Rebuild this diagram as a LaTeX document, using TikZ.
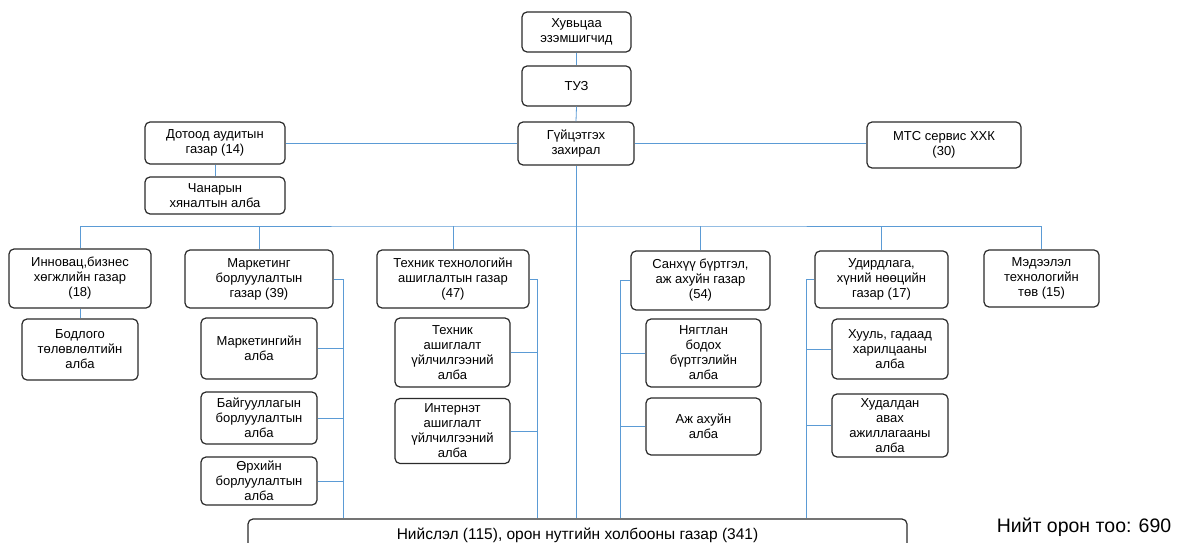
\documentclass[tikz,border=0pt]{standalone}
\usepackage{fontspec}
\setmainfont{Liberation Sans}
\definecolor{linkblue}{HTML}{5B9BD5}
\definecolor{boxedge}{HTML}{2B2B2B}
\begin{document}
\begin{tikzpicture}[x=1pt,y=-1pt,
  box/.style={draw=boxedge,line width=1.2pt,rounded corners=5pt,fill=white,align=center,
    inner sep=1pt,font=\fontsize{13}{15}\selectfont},
  link/.style={draw=linkblue,line width=0.8pt}]
\clip (0,0) rectangle (1177,543);
\fill[white] (0,0) rectangle (1177,543);
\node[box,minimum width=109,minimum height=40] (sh) at (576.5,32) {Хувьцаа\\эзэмшигчид};
\node[box,minimum width=109,minimum height=40] (tuz) at (576.5,86) {ТУЗ};
\node[box,minimum width=116,minimum height=43] (ceo) at (576,143.5) {Гүйцэтгэх\\захирал};
\node[box,minimum width=140,minimum height=42] (audit) at (215,143) {Дотоод аудитын\\газар (14)};
\node[box,minimum width=154,minimum height=46] (mts) at (944,145) {МТС сервис ХХК\\(30)};
\node[box,minimum width=140,minimum height=37] (qual) at (215,195.5) {Чанарын\\хяналтын алба};
\node[box,minimum width=142,minimum height=59] (inn) at (80,278.5) {Инновац,бизнес\\хөгжлийн газар\\(18)};
\node[box,minimum width=148,minimum height=58] (mkt) at (259,279) {Маркетинг\\борлуулалтын\\газар (39)};
\node[box,minimum width=152,minimum height=58] (tech) at (453,279) {Техник технологийн\\ашиглалтын газар\\(47)};
\node[box,minimum width=139,minimum height=59] (fin) at (700.5,280.5) {Санхүү бүртгэл,\\аж ахуйн газар\\(54)};
\node[box,minimum width=133,minimum height=57] (hr) at (881.5,279.5) {Удирдлага,\\хүний нөөцийн\\газар (17)};
\node[box,minimum width=115,minimum height=57] (it) at (1041.5,278.5) {Мэдээлэл\\технологийн\\төв (15)};
\node[box,minimum width=116,minimum height=61] (pol) at (80,349.5) {Бодлого\\төлөвлөлтийн\\алба};
\node[box,minimum width=116,minimum height=61] (mk1) at (259,348.5) {Маркетингийн\\алба};
\node[box,minimum width=116,minimum height=52] (mk2) at (259,418) {Байгууллагын\\борлуулалтын\\алба};
\node[box,minimum width=116,minimum height=48] (mk3) at (259,481) {Өрхийн\\борлуулалтын\\алба};
\node[box,minimum width=115,minimum height=69] (te1) at (452.5,352.5) {Техник\\ашиглалт\\үйлчилгээний\\алба};
\node[box,minimum width=115,minimum height=65] (te2) at (452.5,431) {Интернэт\\ашиглалт\\үйлчилгээний\\алба};
\node[box,minimum width=115,minimum height=68] (fi1) at (703.5,353) {Нягтлан\\бодох\\бүртгэлийн\\алба};
\node[box,minimum width=115,minimum height=57] (fi2) at (703.5,426.5) {Аж ахуйн\\алба};
\node[box,minimum width=116,minimum height=60] (hr1) at (890,349) {Хууль, гадаад\\харилцааны\\алба};
\node[box,minimum width=116,minimum height=63] (hr2) at (890,425.5) {Худалдан\\авах\\ажиллагааны\\алба};
\node[box,minimum width=659,minimum height=41,font=\fontsize{15.5}{17}\selectfont] (bot) at (577.5,539.5) {\raisebox{12pt}{Нийслэл (115), орон нутгийн холбооны газар (341)}};
\node[font=\fontsize{19.5}{22}\selectfont,inner sep=0pt] (total) at (1084,527) {Нийт орон тоо: 690};
\coordinate (bus) at (577,226);
% connectors
\path[link] (sh.south) -- (tuz.north);
\path[link] (tuz.south) -- (ceo.north);
\path[link] (audit.east) -- (audit.east -| ceo.west);
\path[link] (ceo.east |- audit.east) -- (audit.east -| mts.west);
\path[link] (audit.south) -- (qual.north);
\path[link] (inn.north) |- (bus) -| (it.north);
\path[link] (mkt.north) -- (mkt.north |- bus);
\path[link] (tech.north) -- (tech.north |- bus);
\path[link] (fin.north) -- (fin.north |- bus);
\path[link] (hr.north) -- (hr.north |- bus);
\path[link] (ceo.south) -- (ceo.south |- bot.north);
\path[link] (inn.south) -- (pol.north);
% marketing
\path[link] (mkt.east) -- ++(10,0) coordinate (mv) -- (mv |- bot.north);
\path[link] (mk1.east) -- (mk1.east -| mv);
\path[link] (mk2.east) -- (mk2.east -| mv);
\path[link] (mk3.east) -- (mk3.east -| mv);
% tech
\path[link] (tech.east) -- ++(8,0) coordinate (tv) -- (tv |- bot.north);
\path[link] (te1.east) -- (te1.east -| tv);
\path[link] (te2.east) -- (te2.east -| tv);
% finance
\path[link] (fin.west) -- ++(-10.5,0) coordinate (fv) -- (fv |- bot.north);
\path[link] (fi1.west) -- (fi1.west -| fv);
\path[link] (fi2.west) -- (fi2.west -| fv);
% hr
\path[link] (hr.west) -- ++(-8.5,0) coordinate (hv) -- (hv |- bot.north);
\path[link] (hr1.west) -- (hr1.west -| hv);
\path[link] (hr2.west) -- (hr2.west -| hv);
\end{tikzpicture}
\end{document}
